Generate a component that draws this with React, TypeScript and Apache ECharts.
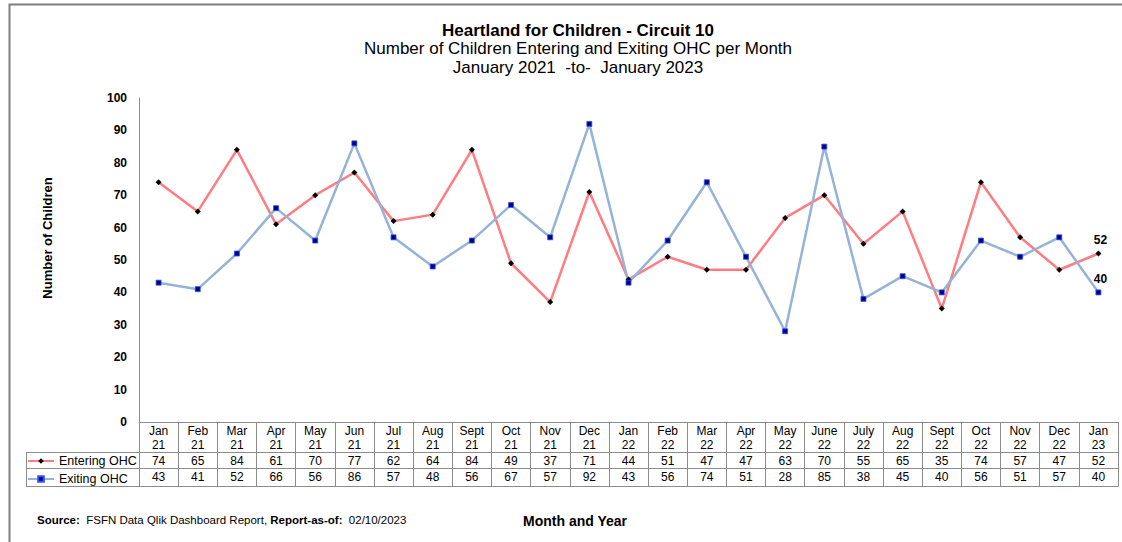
import React, { useEffect, useRef } from "react";
import * as echarts from "echarts";

const months = ["Jan", "Feb", "Mar", "Apr", "May", "Jun", "Jul", "Aug", "Sept", "Oct", "Nov", "Dec", "Jan", "Feb", "Mar", "Apr", "May", "June", "July", "Aug", "Sept", "Oct", "Nov", "Dec", "Jan"];
const years = ["21", "21", "21", "21", "21", "21", "21", "21", "21", "21", "21", "21", "22", "22", "22", "22", "22", "22", "22", "22", "22", "22", "22", "22", "23"];
const entering = [74, 65, 84, 61, 70, 77, 62, 64, 84, 49, 37, 71, 44, 51, 47, 47, 63, 70, 55, 65, 35, 74, 57, 47, 52];
const exiting = [43, 41, 52, 66, 56, 86, 57, 48, 56, 67, 57, 92, 43, 56, 74, 51, 28, 85, 38, 45, 40, 56, 51, 57, 40];
const yTicks = [0, 10, 20, 30, 40, 50, 60, 70, 80, 90, 100];

const FONT = "Liberation Sans, Arial, sans-serif";
const GRID_LEFT = 139;
const GRID_RIGHT = 1118;
const GRID_TOP = 98;
const GRID_BOTTOM = 422;
const TABLE_LEFT = 26;
const ROW1 = 452;
const ROW2 = 468;
const ROW3 = 486;
const LINE_GRAY = "#8c8c8c";

export default function App() {
  const ref = useRef<HTMLDivElement>(null);

  useEffect(() => {
    if (!ref.current) return;
    const chart = echarts.init(ref.current, undefined, { renderer: "svg" });
    const categories = months.map((m, i) => m + "\n" + years[i]);
    const last = categories.length - 1;
    const withLastLabel = (vals: number[]) =>
      vals.map((v, i) =>
        i === last
          ? {
              value: v,
              label: {
                show: true,
                position: "top",
                distance: 5,
                offset: [2, 0],
                fontFamily: FONT,
                fontWeight: "bold",
                fontSize: 12,
                color: "#000",
              },
            }
          : v
      );

    const baseX = {
      type: "category",
      data: categories,
      boundaryGap: true,
      position: "bottom",
      axisTick: { show: false },
      splitLine: { show: false },
    };

    chart.setOption({
      animation: false,
      backgroundColor: "#ffffff",
      title: [
        {
          text: "Heartland for Children - Circuit 10",
          left: 573,
          top: 15,
          textAlign: "center",
          textStyle: { fontFamily: FONT, fontWeight: "bold", fontSize: 17, lineHeight: 20, color: "#000" },
        },
        {
          text: "Number of Children Entering and Exiting OHC per Month\nJanuary 2021  -to-  January 2023",
          left: 573,
          top: 33.5,
          textAlign: "center",
          textStyle: { fontFamily: FONT, fontWeight: "normal", fontSize: 17, lineHeight: 19, color: "#000" },
        },
      ],
      legend: {
        orient: "vertical",
        left: TABLE_LEFT + 1,
        top: ROW1 + 2,
        padding: 0,
        itemGap: 4,
        itemWidth: 26,
        itemHeight: 7,
        data: ["Entering OHC", "Exiting OHC"],
        textStyle: { fontFamily: FONT, fontSize: 12.5, lineHeight: 14, color: "#000" },
      },
      grid: {
        left: GRID_LEFT,
        right: 1122 - GRID_RIGHT,
        top: GRID_TOP,
        bottom: 542 - GRID_BOTTOM,
        containLabel: false,
      },
      xAxis: [
        {
          ...baseX,
          axisLine: { show: true, lineStyle: { color: LINE_GRAY, width: 1 } },
          axisTick: { show: true, alignWithLabel: false, length: ROW3 - GRID_BOTTOM, lineStyle: { color: LINE_GRAY, width: 1 } },
          axisLabel: {
            interval: 0,
            margin: 2,
            fontFamily: FONT,
            fontSize: 12,
            lineHeight: 14,
            color: "#000",
          },
        },
        {
          ...baseX,
          offset: ROW1 - GRID_BOTTOM,
          axisLine: { show: true, lineStyle: { color: LINE_GRAY, width: 1 } },
          axisLabel: {
            interval: 0,
            margin: 2,
            fontFamily: FONT,
            fontSize: 12,
            lineHeight: 14,
            color: "#000",
            formatter: (_: string, i: number) => String(entering[i]),
          },
        },
        {
          ...baseX,
          offset: ROW2 - GRID_BOTTOM,
          axisLine: { show: true, lineStyle: { color: LINE_GRAY, width: 1 } },
          axisLabel: {
            interval: 0,
            margin: 2,
            fontFamily: FONT,
            fontSize: 12,
            lineHeight: 14,
            color: "#000",
            formatter: (_: string, i: number) => String(exiting[i]),
          },
        },
        {
          ...baseX,
          offset: ROW3 - GRID_BOTTOM,
          axisLine: { show: true, lineStyle: { color: LINE_GRAY, width: 1 } },
          axisLabel: { show: false },
        },
      ],
      yAxis: {
        type: "value",
        min: yTicks[0],
        max: yTicks[yTicks.length - 1],
        interval: 10,
        axisLine: { show: true, lineStyle: { color: LINE_GRAY, width: 1 } },
        axisTick: { show: false },
        splitLine: { show: false },
        axisLabel: {
          margin: 12,
          fontFamily: FONT,
          fontWeight: "bold",
          fontSize: 12,
          color: "#000",
        },
      },
      series: [
        {
          name: "Entering OHC",
          type: "line",
          data: withLastLabel(entering),
          symbol: "diamond",
          symbolSize: 6,
          lineStyle: { color: "#ff7c80", width: 2.5 },
          itemStyle: { color: "#000000", borderColor: "#6b0000", borderWidth: 0 },
        },
        {
          name: "Exiting OHC",
          type: "line",
          data: withLastLabel(exiting),
          symbol: "rect",
          symbolSize: 5,
          lineStyle: { color: "#95b3d7", width: 2.5 },
          itemStyle: { color: "#000080", borderColor: "#3050ff", borderWidth: 0.8 },
        },
      ],
      graphic: [
        {
          type: "rect",
          shape: { x: 9.5, y: 4.5, width: 1125, height: 560 },
          style: { fill: "none", stroke: "#7f7f7f", lineWidth: 2 },
          silent: true,
        },
        {
          type: "line",
          shape: { x1: TABLE_LEFT, y1: ROW1 + 0.5, x2: GRID_LEFT, y2: ROW1 + 0.5 },
          style: { stroke: LINE_GRAY, lineWidth: 1 },
        },
        {
          type: "line",
          shape: { x1: TABLE_LEFT, y1: ROW2 + 0.5, x2: GRID_LEFT, y2: ROW2 + 0.5 },
          style: { stroke: LINE_GRAY, lineWidth: 1 },
        },
        {
          type: "line",
          shape: { x1: TABLE_LEFT, y1: ROW3 + 0.5, x2: GRID_LEFT, y2: ROW3 + 0.5 },
          style: { stroke: LINE_GRAY, lineWidth: 1 },
        },
        {
          type: "line",
          shape: { x1: TABLE_LEFT + 0.5, y1: ROW1, x2: TABLE_LEFT + 0.5, y2: ROW3 },
          style: { stroke: LINE_GRAY, lineWidth: 1 },
        },
        {
          type: "text",
          x: 47,
          y: 238,
          rotation: Math.PI / 2,
          style: {
            text: "Number of Children",
            fontFamily: FONT,
            fontWeight: "bold",
            fontSize: 13,
            fill: "#000",
            textAlign: "center",
            textVerticalAlign: "middle",
          },
        },
        {
          type: "text",
          x: 575,
          y: 521,
          style: {
            text: "Month and Year",
            fontFamily: FONT,
            fontWeight: "bold",
            fontSize: 14,
            fill: "#000",
            textAlign: "center",
            textVerticalAlign: "middle",
          },
        },
        {
          type: "text",
          x: 37,
          y: 520,
          style: {
            text: "{b|Source:}  FSFN Data Qlik Dashboard Report, {b|Report-as-of:}  02/10/2023",
            fontFamily: FONT,
            fontSize: 11.5,
            fill: "#000",
            textVerticalAlign: "middle",
            rich: {
              b: { fontFamily: FONT, fontWeight: "bold", fontSize: 11.5, fill: "#000" },
            },
          },
        },
      ],
    });
    return () => chart.dispose();
  }, []);

  return (
    <div
      ref={ref}
      style={{ position: "fixed", left: 0, top: 0, width: 1122, height: 542 }}
    />
  );
}
